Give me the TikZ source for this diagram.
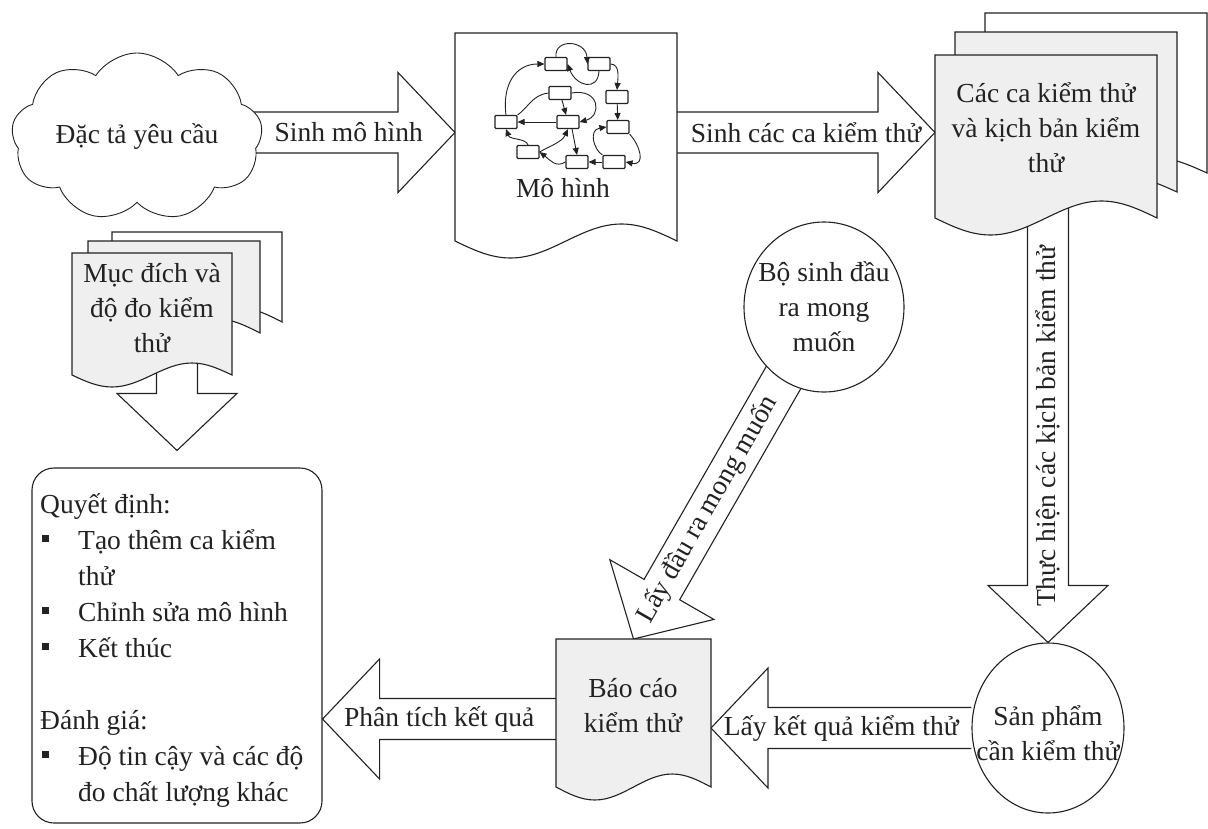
\documentclass[tikz,border=0pt]{standalone}
\usepackage{fontspec}
\setmainfont{Liberation Serif}
\usetikzlibrary{calc,shapes.geometric,shapes.symbols,arrows.meta,backgrounds}

\pgfdeclarelayer{paper}
\pgfsetlayers{paper,background,main}

\definecolor{pagegray}{HTML}{EFEFEF}
\definecolor{ink}{HTML}{222222}

% sizes of the wide outlined arrows
\newcommand\arrhead{57pt}
\newcommand\arrshaft{20.5pt}
\newcommand\arrwing{60pt}

% wide outlined arrow between two named points, tail end left open
\newcommand\blockarrow[2]{%
  \coordinate (bahead) at ($(#2)!\arrhead!(#1)$);
  \draw[blockarr] ($(#1)!\arrshaft!90:(#2)$) -- ($(bahead)!\arrshaft!-90:(#1)$)
    -- ($(bahead)!\arrwing!-90:(#1)$) -- (#2) -- ($(bahead)!\arrwing!90:(#1)$)
    -- ($(bahead)!\arrshaft!90:(#1)$) -- ($(#1)!\arrshaft!-90:(#2)$);}

% document page: top-left corner, width, height to the wave line, wave amplitude, fill
\newcommand\docpage[6]{%
  \draw[outline, fill=#6] (#1,#2) -- ++(#3,0) -- ++(0,#4)
    sin ++(-#3/4,-#5) cos ++(-#3/4,#5) sin ++(-#3/4,#5) cos ++(-#3/4,-#5) -- cycle;}

% square bullet of the decision list
\newcommand\bul{\makebox[38pt][l]{\hspace{2pt}\rule[7pt]{7pt}{7pt}}}

\tikzset{
  every node/.style={font=\fontsize{27.5}{35}\selectfont, text=ink},
  outline/.style={draw=ink, line width=1.1pt},
  blockarr/.style={outline, fill=white, line join=miter},
  anchorbox/.style={shape=rectangle, inner sep=0pt, outer sep=0pt},
  lbl/.style={inner sep=0pt, align=center},
  gbox/.style={draw=ink, fill=white, line width=1.1pt, minimum width=22pt,
    minimum height=13pt, inner sep=0pt, rounded corners=1pt},
  gedge/.style={draw=ink, line width=0.9pt, -{Triangle[length=7pt,width=6pt]}},
  gline/.style={draw=ink, line width=0.9pt},
}

\begin{document}
\begin{tikzpicture}[x=1pt, y=-1pt]
\useasboundingbox (0,0) rectangle (1208,828);
\begin{pgfonlayer}{paper}
  \fill[white] (0,0) rectangle (1208,828);
\end{pgfonlayer}

% ---------- shapes ----------
\node[cloud, draw=ink, line width=0.9pt, fill=white, cloud puffs=9, cloud puff arc=115,
      cloud ignores aspect, minimum width=251pt, minimum height=168pt,
      inner sep=0pt] (req) at (137,137) {Đặc tả yêu cầu};

% model document with its small state graph
\node[anchorbox, minimum width=222pt, minimum height=199pt] (model) at (566,132.5) {};
\docpage{455}{33}{222}{208}{17}{white}

% test cases: stack of three pages
\node[anchorbox, minimum width=222pt, minimum height=155pt] (cases) at (1046,132.5) {};
\docpage{985}{13}{222}{160}{16}{white}
\docpage{955}{32}{222}{160}{16}{pagegray}
\docpage{935}{55}{222}{163}{17}{pagegray}

% goals and measures: stack of three pages
\node[anchorbox, minimum width=210pt, minimum height=143pt] (goals) at (177,303.5) {};
\docpage{112}{232}{170}{90}{14}{white}
\docpage{88}{241}{172}{92}{14}{pagegray}
\docpage{72}{253}{160}{122}{12}{pagegray}

% test report
\node[anchorbox, minimum width=155pt, minimum height=160pt] (report) at (633.5,719) {};
\docpage{556}{639}{155}{148}{13}{pagegray}

\node[ellipse, outline, fill=white, minimum width=160pt, minimum height=170pt,
      inner sep=0pt] (gen) at (824,307) {};
\node[ellipse, outline, fill=white, minimum width=152pt, minimum height=170pt,
      inner sep=0pt] (product) at (1048,728) {};

\node[outline, rounded corners=22pt, minimum width=290pt, minimum height=355pt,
      inner sep=0pt] (box) at (177,645.5) {};

% ---------- wide arrows ----------
\begin{scope}[on background layer]
  \coordinate (a1s) at (req.center |- model.west);
  \blockarrow{a1s}{model.west}
  \blockarrow{model.east}{cases.west}
  \coordinate (a3s) at (product.north |- cases.center);
  \blockarrow{a3s}{product.north}
  \coordinate (a4e) at (report.east |- product.west);
  \blockarrow{product.west}{a4e}
  \coordinate (a5e) at (box.east |- report.west);
  \blockarrow{report.west}{a5e}
  \blockarrow{gen.center}{report.north}
  \coordinate (a7e) at ($(box.north)+(0,-17)$);
  \blockarrow{goals.center}{a7e}
\end{scope}

% ---------- arrow labels ----------
\node[lbl] (l1) at ($(req.east |- model.west)!0.45!(model.west)$) {Sinh mô hình};
\path (model.east) -- (cases.west) node[lbl, midway] (l2) {Sinh các ca kiểm thử};
\node[lbl, rotate=90] (l3) at ($(product.north |- cases.south)!0.5!(product.north)$)
  {Thực hiện các kịch bản kiểm thử};
\path (product.west) -- (a4e) node[lbl, midway] (l4) {Lấy kết quả kiểm thử};
\path (report.west) -- (a5e) node[lbl, midway] (l5) {Phân tích kết quả};
\path (gen) -- (report.north) node[lbl, midway, sloped] (l6) {Lấy đầu ra mong muốn};

% ---------- texts of the shapes ----------
\node[lbl] (modeltext) at (563,188) {Mô hình};
\node[lbl] (casestext) at (1046,128) {Các ca kiểm thử\\và kịch bản kiểm\\thử};
\node[lbl] (goalstext) at (152,308) {Mục đích và\\độ đo kiểm\\thử};
\node[lbl] (reporttext) at (633,706) {Báo cáo\\kiểm thử};
\node[lbl] (gentext) at (824,307) {Bộ sinh đầu\\ra mong\\muốn};
\node[lbl] (producttext) at (1048,733) {Sản phẩm\\cần kiểm thử};

\node[anchor=base west, inner sep=0pt] (boxtext) at (40,513) {%
  \fontsize{27.5}{36}\selectfont
  \parbox[t]{280pt}{\raggedright
  Quyết định:\\
  \bul Tạo thêm ca kiểm\\
  \hspace*{38pt}thử\\
  \bul Chỉnh sửa mô hình\\
  \bul Kết thúc\\[36pt]
  Đánh giá:\\
  \bul Độ tin cậy và các độ\\
  \hspace*{38pt}đo chất lượng khác}};

% ---------- state graph inside the model ----------
\node[gbox] (gA) at (556,64) {};
\node[gbox] (gB) at (599,64) {};
\node[gbox] (gC) at (617,97) {};
\node[gbox] (gD) at (618,127) {};
\node[gbox] (gE) at (614,162) {};
\node[gbox] (gF) at (577,162) {};
\node[gbox] (gG) at (528,152) {};
\node[gbox] (gH) at (506,122) {};
\node[gbox] (gI) at (568,122) {};
\node[gbox] (gJ) at (560,93) {};

\draw[gedge] (gA.north) .. controls (554,38) and (586,40) .. (gB.west);
\draw[gedge] (gB.south) .. controls (598,92) and (576,86) .. (gA.east);
\draw[gedge] (gH.north) .. controls (502,84) and (516,64) .. (gA.west);
\draw[gedge] (gB.east) .. controls (620,64) and (618,78) .. (gC.north);
\draw[gedge] (gC) -- (gD);
\draw[gedge] (gD.south east) .. controls (640,145) and (646,166) .. (gE.east);
\draw[gedge] (gE) -- (gF);
\draw[gedge] (gE.north west) .. controls (594,150) and (588,130) .. (gD.west);
\draw[gedge] (gI.-60) -- (gF.north);
\draw[gedge] (gG.east) .. controls (550,146) and (562,142) .. (gI.south);
\draw[gedge] (gF.west) .. controls (556,168) and (550,160) .. (gG.east);
\draw[gedge] (gG.north) .. controls (526,138) and (510,140) .. (gH.south);
\draw[gedge] (gI) -- (gH);
\draw[gedge] (gJ) -- (gI);
\draw[gedge] (gJ.east) .. controls (600,88) and (602,116) .. (gI.east);
\draw[gline] (gJ.west) .. controls (532,95) and (528,108) .. (gH.north east);
\end{tikzpicture}
\end{document}
